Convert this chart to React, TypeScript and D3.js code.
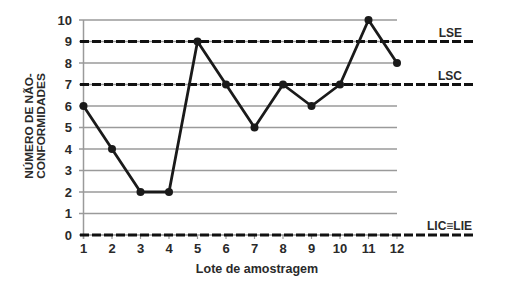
import React from "react";
import * as d3 from "d3";

const lots = [1, 2, 3, 4, 5, 6, 7, 8, 9, 10, 11, 12];
const values = [6, 4, 2, 2, 9, 7, 5, 7, 6, 7, 10, 8];
const yTicks = [0, 1, 2, 3, 4, 5, 6, 7, 8, 9, 10];
const limits = [
  { name: "LSE", value: 9 },
  { name: "LSC", value: 7 },
  { name: "LIC\u2261LIE", value: 0 },
];
const yTitle = ["NÚMERO DE NÃO-", "CONFORMIDADES"];
const xTitle = "Lote de amostragem";

export default function App() {
  const W = 524, H = 285;
  const x = d3.scaleLinear().domain([1, 12]).range([83.5, 397]);
  const y = d3.scaleLinear().domain([0, 10]).range([235, 20]);
  const line = d3.line<number>().x((_, i) => x(lots[i])).y((d) => y(d));
  const font = "'Liberation Sans', Arial, sans-serif";
  const txt = "#2a2a2a";
  return (
    <svg width={W} height={H} style={{ position: "absolute", left: 0, top: 0 }} fontFamily={font}>
      <rect width={W} height={H} fill="#fff" />
      {yTicks.map((t) => (
        <line key={"g" + t} x1={79} x2={x(12)} y1={y(t)} y2={y(t)} stroke="#9a9a9a" strokeWidth={1.5} />
      ))}
      <line x1={x(1)} x2={x(1)} y1={y(10)} y2={y(0) + 4} stroke="#9a9a9a" strokeWidth={1.5} />
      {lots.map((l) => (
        <line key={"t" + l} x1={x(l)} x2={x(l)} y1={y(0)} y2={y(0) + 4} stroke="#9a9a9a" strokeWidth={1.2} />
      ))}
      {limits.map((lm) => (
        <line key={lm.name} x1={80} x2={475} y1={y(lm.value)} y2={y(lm.value)} stroke="#111" strokeWidth={3} strokeDasharray="9 3" />
      ))}
      {limits.map((lm) => (
        <text key={"l" + lm.name} x={lm.value === 0 ? 472 : 462} y={y(lm.value) - 5} textAnchor="end" fontSize={12} fontWeight="bold" fill={txt}>
          {lm.name}
        </text>
      ))}
      <path d={line(values) || ""} fill="none" stroke="#1a1a1a" strokeWidth={2.8} strokeLinejoin="round" />
      {values.map((v, i) => (
        <circle key={"c" + i} cx={x(lots[i])} cy={y(v)} r={4} fill="#1a1a1a" />
      ))}
      {yTicks.map((t) => (
        <text key={"yl" + t} x={72} y={y(t) + 4.5} textAnchor="end" fontSize={13} fontWeight="bold" fill={txt}>
          {t}
        </text>
      ))}
      {lots.map((l) => (
        <text key={"xl" + l} x={x(l)} y={253} textAnchor="middle" fontSize={13} fontWeight="bold" fill={txt}>
          {l}
        </text>
      ))}
      <text x={257} y={273} textAnchor="middle" fontSize={12.5} fontWeight="bold" fill={txt}>
        {xTitle}
      </text>
      {yTitle.map((s, i) => (
        <text key={"yt" + i} transform={`translate(${33 + i * 12},126) rotate(-90)`} textAnchor="middle" fontSize={11.8} fontWeight="bold" fill={txt}>
          {s}
        </text>
      ))}
    </svg>
  );
}
